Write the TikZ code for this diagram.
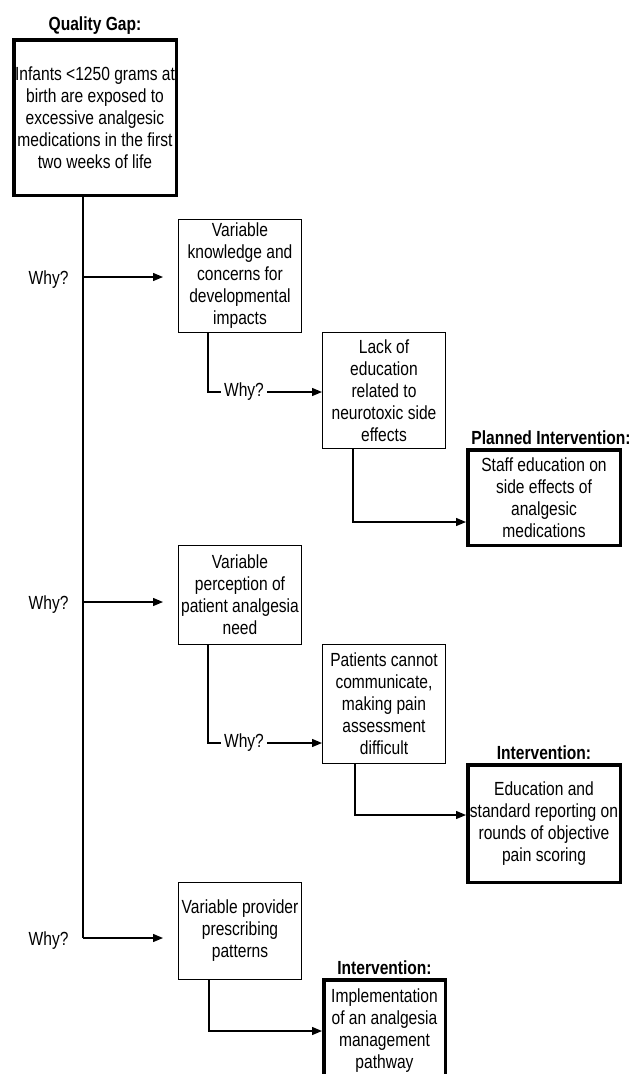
\documentclass[tikz,border=0pt]{standalone}
\usepackage{fontspec}
\setmainfont{Liberation Sans}[FakeStretch=0.82]
\usetikzlibrary{arrows.meta,positioning}

\begin{document}
\begin{tikzpicture}[x=1pt,y=1pt,font=\fontsize{19}{22}\selectfont,
  cause/.style={draw,line width=1.3pt,align=center,inner sep=1pt,minimum width=122.7pt},
  goal/.style={draw,line width=3.5pt,align=center,inner sep=1pt},
  lbl/.style={font=\fontsize{19}{20}\selectfont\bfseries,inner sep=1pt},
  link/.style={line width=1.3pt},
  arr/.style={link,-{Triangle[length=10pt,width=8pt]}}]
\useasboundingbox (0,0) rectangle (636,-1074);
% problem box and the causes under it
\node[goal,minimum width=162.5pt,minimum height=155.5pt] (gap) at (95,-117.5)
  {Infants <1250 grams at\\birth are exposed to\\excessive analgesic\\medications in the first\\two weeks of life};
\node[lbl,above=2.5pt of gap] (qg) {Quality Gap:};
\node[cause,minimum height=112.7pt] (v1) at (240,-276) {Variable\\knowledge and\\concerns for\\developmental\\impacts};
\node[cause,minimum height=115.7pt] (l1) at (384,-390.5) {Lack of\\education\\related to\\neurotoxic side\\effects};
\node[goal,minimum width=152.5pt,minimum height=95.5pt] (s) at (544,-497.5) {Staff education on\\side effects of\\analgesic\\medications};
\node[lbl,above=2.5pt of s,xshift=7pt] (ps) {Planned Intervention:};
\node[cause,minimum height=98.7pt] (v2) at (240,-595) {Variable\\perception of\\patient analgesia\\need};
\node[cause,minimum height=118.7pt] (p) at (384,-704) {Patients cannot\\communicate,\\making pain\\assessment\\difficult};
\node[goal,minimum width=152.5pt,minimum height=117.5pt] (e) at (544,-823.5) {Education and\\standard reporting on\\rounds of objective\\pain scoring};
\node[lbl,above=2.5pt of e] (pe) {Intervention:};
\node[cause,minimum height=96.7pt] (v3) at (240,-931) {Variable provider\\prescribing\\patterns};
\node[goal,minimum width=121.5pt,minimum height=102.5pt] (im) at (384.5,-1031) {Implementation\\of an analgesia\\management\\pathway};
\node[lbl,above=2.5pt of im] (pi) {Intervention:};
% main spine with the three whys
\coordinate (w1) at (83,-277);
\coordinate (w2) at (83,-602);
\coordinate (w3) at (83,-938);
\draw[link] (gap.south -| w3) -- (w3);
\foreach \c/\b in {w1/v1,w2/v2,w3/v3}{
  \draw[arr] (\c) -- ([xshift=-15pt]\b.west |- \c);
  \node[left=11pt of \c,yshift=-3pt] (q\c) {Why?};
}
% second level
\node (k1) at (244,-392) {Why?};
\node (k2) at (244,-743) {Why?};
\draw[link] ([xshift=30pt]v1.south west) |- (k1.west);
\draw[arr] (k1.east) -- (l1.west |- k1.east);
\draw[link] ([xshift=30pt]v2.south west) |- (k2.west);
\draw[arr] (k2.east) -- (p.west |- k2.east);
% to the interventions
\draw[arr] ([xshift=31pt]l1.south west) |- ([yshift=-24.5pt]s.west);
\draw[arr] ([xshift=33pt]p.south west) |- ([yshift=8.5pt]e.west);
\draw[arr] ([xshift=31pt]v3.south west) |- (im.west);
\end{tikzpicture}
\end{document}
